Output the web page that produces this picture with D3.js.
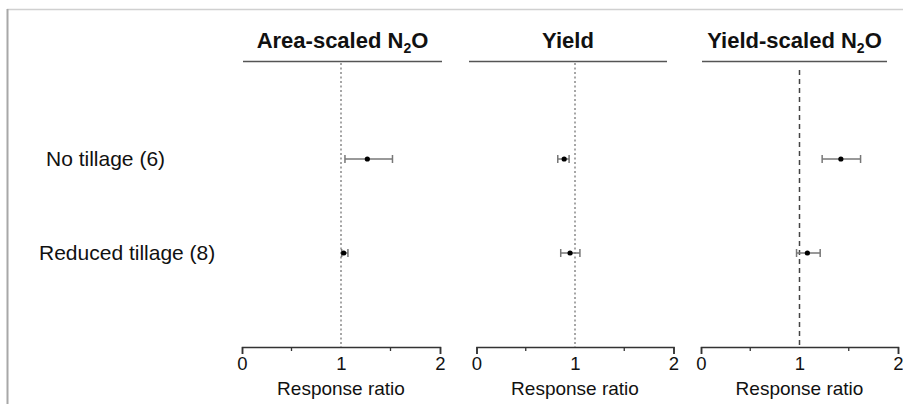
<!DOCTYPE html>
<html><head><meta charset="utf-8">
<script src="https://cdn.jsdelivr.net/npm/d3@7/dist/d3.min.js"></script>
<style>body{margin:0;background:#fff}svg{display:block;font-family:"Liberation Sans",Arial,sans-serif}</style>
</head><body><svg id="c" width="903" height="404"></svg>
<script>
const categories = ["No tillage (6)", "Reduced tillage (8)"];
const panelTitles = ["Area-scaled N|2|O", "Yield", "Yield-scaled N|2|O"];
const means = [[1.266, 1.027], [0.89, 0.95], [1.42, 1.08]];
const lowers = [[1.04, 1.007], [0.825, 0.855], [1.23, 0.97]];
const uppers = [[1.52, 1.07], [0.94, 1.05], [1.62, 1.21]];
const tickValues = [0, 1, 2];
const minorTicks = [0.5, 1.5];
const axisLabel = "Response ratio";

const svg = d3.select("#c");
// frame
svg.append("line").attr("x1",7).attr("x2",903).attr("y1",9.5).attr("y2",9.5).attr("stroke","#d0d0d0").attr("stroke-width",1.5);
svg.append("line").attr("x1",7.5).attr("x2",7.5).attr("y1",9).attr("y2",404).attr("stroke","#a8a8a8").attr("stroke-width",2);

const panels = [
  {x0:242, x1:440, top0:243, top1:442, dash:"2,2.5"},
  {x0:476.5, x1:673.5, top0:469, top1:667, dash:"2,2.5"},
  {x0:701, x1:898, top0:702, top1:887, dash:"5,4"}
];
const y = d3.scalePoint().domain(categories).range([159, 253]);
const axisY = 347;

svg.selectAll("text.cat").data(categories).join("text")
  .attr("class","cat")
  .attr("x",(d,i)=> i===0 ? 46 : 39)
  .attr("y",d=>y(d)).attr("dy","0.35em")
  .attr("font-size",21).attr("fill","#111").text(d=>d);

panels.forEach((p,k)=>{
  const x = d3.scaleLinear().domain([0,2]).range([p.x0,p.x1]);
  const g = svg.append("g");
  // title
  const parts = panelTitles[k].split("|");
  const t = g.append("text").attr("x",(p.top0+p.top1)/2).attr("y",48)
    .attr("text-anchor","middle").attr("font-size",22).attr("font-weight","bold").attr("fill","#111");
  t.append("tspan").text(parts[0]);
  if (parts.length>1){
    t.append("tspan").attr("font-size",14).attr("dy",5).text(parts[1]);
    t.append("tspan").attr("dy",-5).text(parts[2]);
  }
  g.append("line").attr("x1",p.top0).attr("x2",p.top1).attr("y1",61.5).attr("y2",61.5)
    .attr("stroke","#555").attr("stroke-width",1.5);
  // reference line at 1
  g.append("line").attr("x1",x(1)).attr("x2",x(1)).attr("y1",k===2?70:63).attr("y2",axisY)
    .attr("stroke",k===2?"#444":"#777").attr("stroke-width",k===2?1.5:1.3).attr("stroke-dasharray",p.dash);
  // axis
  const ax = g.append("g").attr("transform",`translate(0,${axisY})`)
    .call(d3.axisBottom(x).tickValues(tickValues).tickFormat(d3.format("d")).tickSize(7).tickPadding(3));
  ax.select(".domain").attr("stroke","#333").attr("stroke-width",1.5);
  ax.selectAll(".tick line").attr("stroke","#333").attr("stroke-width",1.5);
  ax.selectAll(".tick").filter(d=>d===1).select("line").remove();
  ax.selectAll(".tick text").attr("font-size",18.5).attr("fill","#111").attr("font-family","Liberation Sans, Arial, sans-serif");
  ax.selectAll(".minor").data(minorTicks).join("line").attr("class","minor")
    .attr("x1",d=>x(d)).attr("x2",d=>x(d)).attr("y1",0).attr("y2",4).attr("stroke","#333").attr("stroke-width",1.3);
  g.append("text").attr("x",x(1)).attr("y",395).attr("text-anchor","middle")
    .attr("font-size",19).attr("fill","#111").text(axisLabel);
  // error bars
  categories.forEach((c,i)=>{
    const yy = y(c);
    g.append("line").attr("x1",x(lowers[k][i])).attr("x2",x(uppers[k][i])).attr("y1",yy).attr("y2",yy)
      .attr("stroke","#777").attr("stroke-width",1.5);
    [lowers[k][i],uppers[k][i]].forEach(v=>{
      g.append("line").attr("x1",x(v)).attr("x2",x(v)).attr("y1",yy-4).attr("y2",yy+4)
        .attr("stroke","#777").attr("stroke-width",1.5);
    });
    g.append("circle").attr("cx",x(means[k][i])).attr("cy",yy).attr("r",2.6).attr("fill","#000");
  });
});
</script></body></html>
